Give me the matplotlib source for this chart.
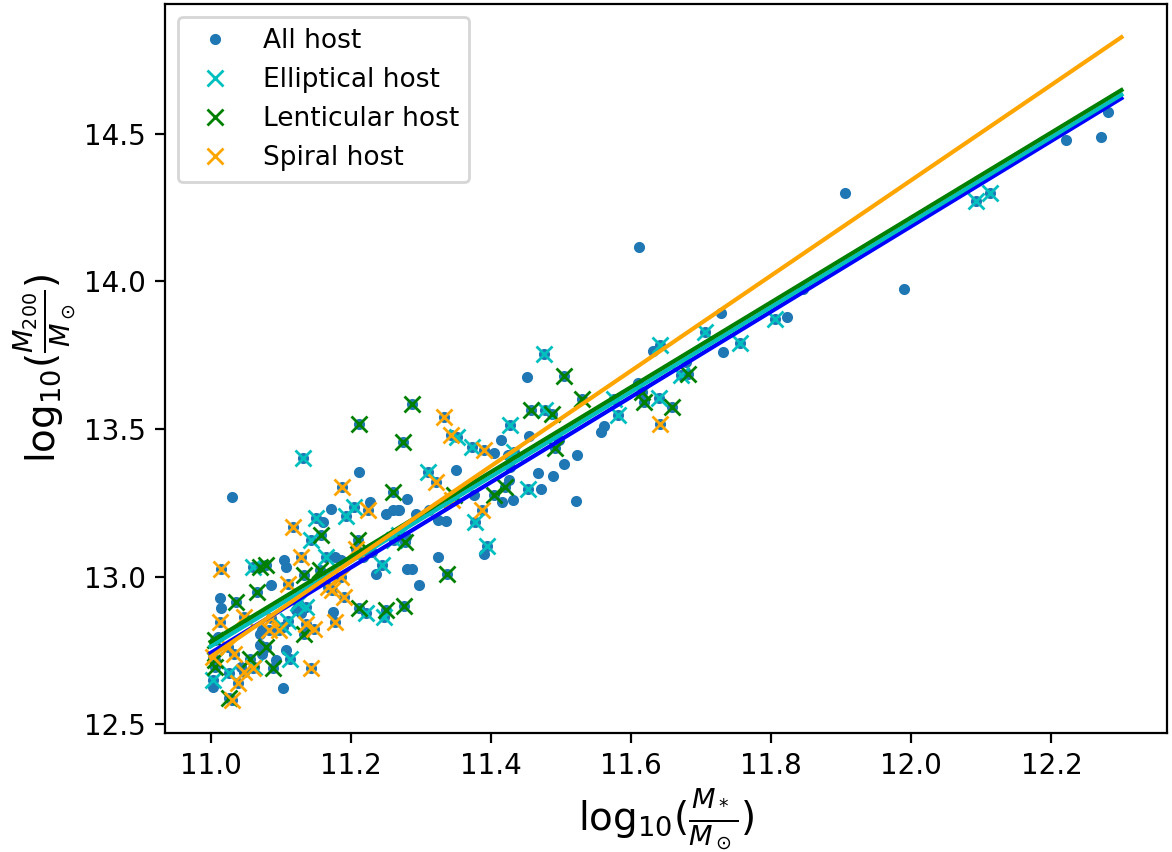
import numpy as np
import matplotlib
matplotlib.use("Agg")
import matplotlib.pyplot as plt

# elliptical hosts (log10 M*, log10 M200)
ell_x = [12.092, 12.112, 11.806, 11.756, 11.705, 11.642, 11.672, 11.640, 11.576, 11.582,
         11.476, 11.478, 11.428, 11.352, 11.373, 11.433, 11.453, 11.310, 11.377, 11.394,
         11.132, 11.205, 11.193, 11.151, 11.143, 11.165, 11.060, 11.222, 11.248, 11.103,
         11.136, 11.113, 11.062, 11.003, 11.027, 11.245, 11.269, 11.262, 11.110, 11.125]
ell_y = [14.271, 14.299, 13.874, 13.792, 13.829, 13.786, 13.684, 13.606, 13.603, 13.546,
         13.755, 13.563, 13.513, 13.473, 13.439, 13.422, 13.296, 13.354, 13.185, 13.103,
         13.403, 13.236, 13.204, 13.197, 13.123, 13.067, 13.033, 12.875, 12.863, 12.830,
         12.897, 12.722, 12.694, 12.649, 12.672, 13.038, 13.140, 13.123, 12.850, 12.910]

# lenticular hosts
len_x = [11.681, 11.616, 11.619, 11.658, 11.504, 11.530, 11.288, 11.457, 11.488, 11.275,
         11.492, 11.420, 11.405, 11.347, 11.278, 11.338, 11.276, 11.212, 11.261, 11.158,
         11.079, 11.070, 11.134, 11.156, 11.066, 11.037, 11.212, 11.250, 11.134, 11.079,
         11.089, 11.027, 11.006, 11.007, 11.056, 11.211, 11.006]
len_y = [13.687, 13.625, 13.591, 13.575, 13.678, 13.600, 13.584, 13.563, 13.550, 13.456,
         13.434, 13.302, 13.276, 13.275, 13.117, 13.010, 12.900, 13.518, 13.287, 13.140,
         13.038, 13.033, 13.005, 13.022, 12.948, 12.914, 12.892, 12.888, 12.807, 12.762,
         12.689, 12.590, 12.717, 12.694, 12.722, 13.123, 12.784]

# spiral hosts
spi_x = [11.642, 11.333, 11.343, 11.390, 11.322, 11.345, 11.387, 11.188, 11.224, 11.117,
         11.129, 11.015, 11.110, 11.173, 11.048, 11.013, 11.191, 11.177, 11.086, 11.084,
         11.136, 11.148, 11.098, 11.143, 11.048, 11.060, 11.039, 11.030, 11.003, 11.025,
         11.034, 11.208, 11.167, 11.186]
spi_y = [13.516, 13.541, 13.479, 13.428, 13.321, 13.259, 13.227, 13.302, 13.225, 13.168,
         13.067, 13.027, 12.976, 12.954, 12.863, 12.846, 12.931, 12.846, 12.858, 12.818,
         12.841, 12.824, 12.818, 12.689, 12.677, 12.689, 12.638, 12.582, 12.728, 12.762,
         12.739, 13.095, 12.965, 12.999]

# hosts without a morphology class (only in "All host")
oth_x = [11.905, 11.989, 12.221, 12.271, 12.281, 11.611, 11.728, 11.846, 11.823, 11.731,
         11.631, 11.678, 11.610, 11.561, 11.557, 11.452, 11.415, 11.454, 11.404, 11.424,
         11.497, 11.523, 11.504, 11.468, 11.489, 11.472, 11.522, 11.428, 11.426, 11.416,
         11.431, 11.350, 11.376, 11.390, 11.279, 11.281, 11.293, 11.269, 11.312, 11.325,
         11.336, 11.324, 11.280, 11.287, 11.297, 11.212, 11.031, 11.172, 11.227, 11.250,
         11.260, 11.267, 11.160, 11.177, 11.186, 11.105, 11.108, 11.086, 11.014, 11.015,
         11.175, 11.122, 11.129, 11.070, 11.074, 11.108, 11.094, 11.103, 11.003, 11.010,
         11.044, 11.070, 11.074, 11.236, 11.217, 11.231]
oth_y = [14.298, 13.973, 14.480, 14.489, 14.574, 14.116, 13.894, 13.975, 13.879, 13.761,
         13.764, 13.727, 13.657, 13.510, 13.490, 13.676, 13.462, 13.475, 13.420, 13.411,
         13.462, 13.413, 13.380, 13.351, 13.340, 13.296, 13.255, 13.371, 13.326, 13.253,
         13.259, 13.362, 13.276, 13.078, 13.134, 13.264, 13.213, 13.227, 13.225, 13.193,
         13.188, 13.067, 13.027, 13.024, 12.971, 13.354, 13.268, 13.230, 13.253, 13.213,
         13.225, 13.225, 13.185, 13.067, 13.056, 13.056, 13.033, 12.971, 12.926, 12.892,
         12.880, 12.886, 12.875, 12.807, 12.818, 12.751, 12.717, 12.624, 12.626, 12.796,
         12.694, 12.767, 12.739, 13.010, 13.067, 13.084]

# linear fits: y = slope * (x - 11) + value at 11
fit_colors = ['b', 'c', 'g', 'orange']
fit_slope = [1.446, 1.438, 1.438, 1.615]
fit_at11 = [12.741, 12.763, 12.779, 12.728]
fit_range = [11.0, 12.3]

all_x = np.concatenate([oth_x, ell_x, len_x, spi_x])
all_y = np.concatenate([oth_y, ell_y, len_y, spi_y])

fig = plt.figure(figsize=(5.86, 4.26), dpi=200)
ax = fig.add_axes([165 / 1172, 1 - 733 / 852, 1002 / 1172, 729 / 852])

ax.plot(all_x, all_y, '.', color='C0', label='All host')
ax.plot(ell_x, ell_y, 'x', color='c', label='Elliptical host')
ax.plot(len_x, len_y, 'x', color='g', label='Lenticular host')
ax.plot(spi_x, spi_y, 'x', color='orange', label='Spiral host')

xx = np.linspace(fit_range[0], fit_range[1], 50)
for c, k, b in zip(fit_colors, fit_slope, fit_at11):
    ax.plot(xx, k * (xx - 11) + b, color=c)

ax.set_xlim(10.935, 12.365)
ax.set_ylim(12.47, 14.94)
ax.set_xlabel(r'log$_{10}$($\frac{M_*}{M_\odot}$)', fontsize=14, labelpad=2)
ax.set_ylabel(r'log$_{10}$($\frac{M_{200}}{M_\odot}$)', fontsize=14, labelpad=2)
ax.legend(loc='upper left', fontsize=9.5)

fig.savefig('out.png', dpi=200)
